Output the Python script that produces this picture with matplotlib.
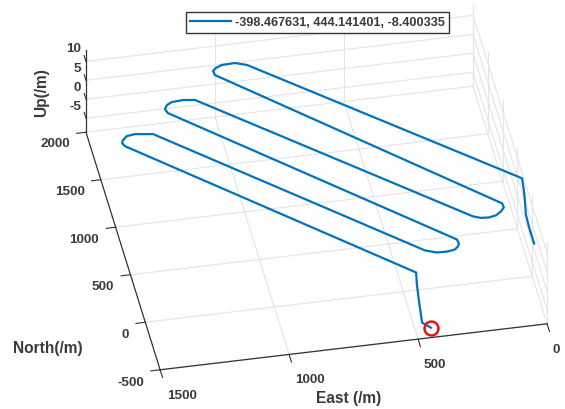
#!/usr/bin/env python3
"""Trajectory in local East/North/Up, MATLAB-style 3D view."""
import matplotlib
matplotlib.use("Agg")
import matplotlib.pyplot as plt

W, H = 565, 409

east = [440, 467, 454, 442, 431, 1372, 1379, 1372, 1353, 1320, 1287, 1253,
        372, 330, 287, 259, 244, 237, 240, 1173, 1179, 1167, 1145, 1101, 1056,
        153, 125, 94, 66, 42, 27, 29, 953, 955, 941, 915, 864, 821,
        -75, -67, -58, -47, -44, -44]
north = [-411, -349, -132, 44, 167, 1800, 1834, 1864, 1900, 1910, 1899, 1889,
         380, 345, 342, 354, 381, 410, 453, 2084, 2128, 2167, 2191, 2198, 2184,
         668, 643, 638, 650, 685, 722, 765, 2414, 2457, 2484, 2507, 2511, 2477,
         995, 860, 747, 624, 488, 319]
up = [-8.4] * len(east)

east_ticks = [1500, 1000, 500, 0]
north_ticks = [-500, 0, 500, 1000, 1500, 2000]
up_ticks = [-5, 0, 5, 10]
east_lim = (1500, 0)
north_lim = (-500, 2000)
up_lim = (-8.7, 12.9)

legend_label = "-398.467631, 444.141401, -8.400335"
BLUE = "#0072BD"
GRID = "#e4e4e4"
AXIS = "#333333"
TEXT = "#3a3a3a"

plt.rcParams["font.family"] = ["Liberation Sans", "DejaVu Sans"]

fig = plt.figure(figsize=(W / 100, H / 100), dpi=100)
ax = fig.add_axes([34.6 / W, -60 / H, 549 / W, 549 / H], projection="3d",
                  proj_type="ortho", computed_zorder=False)
ax.set_axis_off()
ax.set_box_aspect((394, 392, 104))
ax.view_init(elev=38.1, azim=-100.9)
ax.set_xlim(*east_lim)
ax.set_ylim(*north_lim)
ax.set_zlim(*up_lim)


def seg(xs, ys, zs, color=GRID, lw=0.8, zorder=1):
    ax.plot(xs, ys, zs, color=color, lw=lw, zorder=zorder, clip_on=False)


# grid on floor and the two back walls
for e in east_ticks[1:3]:
    seg([e, e], north_lim, [up_lim[0]] * 2)
    seg([e, e], [north_lim[1]] * 2, up_lim)
for n in north_ticks:
    seg(east_lim, [n, n], [up_lim[0]] * 2)
    seg([0, 0], [n, n], up_lim)
for z in up_ticks:
    seg(east_lim, [north_lim[1]] * 2, [z, z])
    seg([0, 0], north_lim, [z, z])
seg([0, 0], north_lim, [up_lim[0]] * 2)

# axis lines and ticks
seg(east_lim, [north_lim[0]] * 2, [up_lim[0]] * 2, AXIS, 0.9, 2)
seg([east_lim[0]] * 2, north_lim, [up_lim[0]] * 2, AXIS, 0.9, 2)
seg([east_lim[0]] * 2, [north_lim[1]] * 2, up_lim, AXIS, 0.9, 2)
for e in east_ticks:
    seg([e, e], [north_lim[0], north_lim[0] - 80], [up_lim[0]] * 2, AXIS, 0.8, 2)
for n in north_ticks:
    seg([east_lim[0], east_lim[0] + 36], [n, n], [up_lim[0]] * 2, AXIS, 0.8, 2)
for z in up_ticks:
    seg([east_lim[0]] * 2, [north_lim[1], north_lim[1] + 60], [z, z], AXIS, 0.8, 2)

line, = ax.plot(east, north, up, color=BLUE, lw=1.6, zorder=3,
                label=legend_label, solid_joinstyle="round")
ax.plot(east[:1], north[:1], up[:1], "o", mfc="none", mec="#ee1111", ms=10,
        mew=1.8, zorder=4)


def label(x, y, s, ha="center", size=9.7, **kw):
    fig.text(x / W, 1 - y / H, s, ha=ha, va="center", fontsize=size,
             fontweight="bold", color=TEXT, **kw)


for v, x, y in zip(up_ticks, [81, 81, 81, 81], [107, 88, 69, 49]):
    label(x, y, str(v), ha="right")
for v, x, y in zip(north_ticks, [144, 129, 114, 99, 85, 70],
                   [383, 335, 287, 240, 192, 144]):
    label(x, y, str(v), ha="right")
for v, x, y in zip(east_ticks, [182, 310, 435, 556], [396, 380, 365, 350]):
    label(x, y, str(v))
label(42, 93, "Up(/m)", size=11.2, rotation=90)
label(48, 349, "North(/m)", size=11.2)
label(349, 398, "East (/m)", size=11.2)

fig.legend(handles=[line], loc="center", ncol=1,
           bbox_to_anchor=(317.5 / W, 1 - 22.5 / H),
           fancybox=False, framealpha=1, edgecolor=AXIS,
           prop={"size": 9.1, "weight": "bold"}, labelcolor=TEXT,
           handlelength=3.2, handletextpad=0.35, borderpad=0.35,
           borderaxespad=0)

fig.savefig("out.png", dpi=100)
